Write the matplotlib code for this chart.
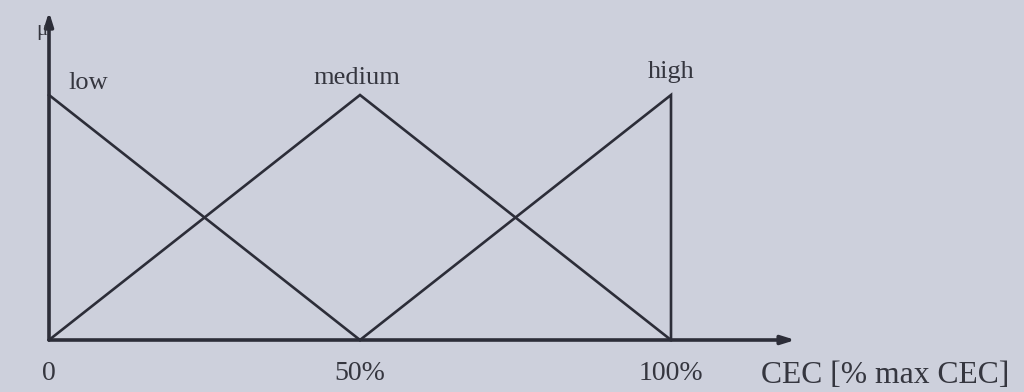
import matplotlib
matplotlib.use("Agg")
import matplotlib.pyplot as plt

# Fuzzy membership functions for CEC (% of max CEC)
low_x = [0, 50]
low_mu = [1, 0]
medium_x = [0, 50, 100]
medium_mu = [0, 1, 0]
high_x = [50, 100, 100]
high_mu = [0, 1, 0]

set_names = ["low", "medium", "high"]
set_peaks = [0, 50, 100]
tick_pos = [0, 50, 100]
tick_labels = ["0", "50%", "100%"]
x_label = "CEC [% max CEC]"
y_label = "\u03bc"

bg = "#cdd0dc"
ink = "#2c2d38"
txt = "#35363f"

fig = plt.figure(figsize=(10.24, 3.92), dpi=100, facecolor=bg)
ax = fig.add_axes([0, 0, 1, 1])
ax.set_facecolor(bg)

px_per_unit = 6.22
x0_px = 49
ax.set_xlim(-x0_px / px_per_unit, (1024 - x0_px) / px_per_unit)
y_scale = 245
y0_px = 340
ax.set_ylim(-(392 - y0_px) / y_scale, y0_px / y_scale)
ax.axis("off")

for xs, ys in [(low_x, low_mu), (medium_x, medium_mu), (high_x, high_mu)]:
    ax.plot(xs, ys, color=ink, lw=1.9, solid_joinstyle="miter")

# axes with arrow heads
ax.annotate("", xy=(120, 0), xytext=(0, 0),
            arrowprops=dict(arrowstyle="-|>,head_length=0.8,head_width=0.25",
                            color=ink, lw=2.6, shrinkA=0, shrinkB=0))
ax.annotate("", xy=(0, 1.34), xytext=(0, 0),
            arrowprops=dict(arrowstyle="-|>,head_length=0.8,head_width=0.25",
                            color=ink, lw=2.6, shrinkA=0, shrinkB=0))

serif = "Liberation Serif"
label_offsets = [(6.3, 1.005), (-0.5, 1.025), (0, 1.05)]
for name, pk, (dx, yy) in zip(set_names, set_peaks, label_offsets):
    ax.text(pk + dx, yy, name, family=serif, fontsize=19, color=txt,
            ha="center", va="bottom")

for pos, lab in zip(tick_pos, tick_labels):
    ax.text(pos, -0.085, lab, family=serif, fontsize=20, color=txt,
            ha="center", va="top")

ax.text(134.5, -0.085, x_label, family=serif, fontsize=22.8, color=txt,
        ha="center", va="top")
ax.text(-1.2, 1.265, y_label, family=serif, fontsize=15, color=txt,
        ha="center", va="center")

fig.savefig("out.png", dpi=100, facecolor=bg)
